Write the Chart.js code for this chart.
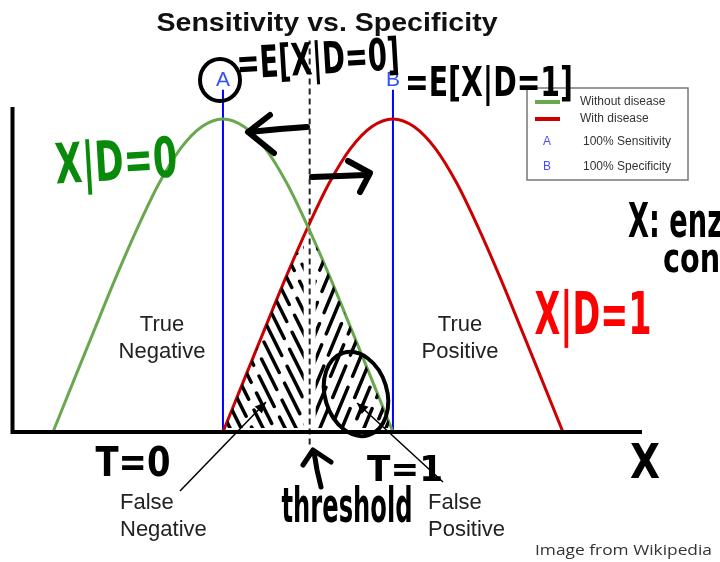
<!DOCTYPE html>
<html>
<head>
<meta charset="utf-8">
<script src="https://cdn.jsdelivr.net/npm/chart.js@4/dist/chart.umd.min.js"></script>
<style>
  html, body { margin: 0; padding: 0; background: #fff; }
  canvas { display: block; }
</style>
</head>
<body>
<canvas id="c" width="720" height="562"></canvas>
<script>
// Test value X for patients without the disease (D=0)
const xWithout = [-1, -0.875, -0.75, -0.625, -0.5, -0.375, -0.25, -0.125, 0, 0.125, 0.25, 0.375, 0.5, 0.625, 0.75, 0.875, 1];
const yWithout = [0, 0.168, 0.335, 0.50, 0.655, 0.795, 0.905, 0.975, 1, 0.975, 0.905, 0.795, 0.655, 0.50, 0.335, 0.168, 0];

// Test value X for patients with the disease (D=1)
const xWith = [0, 0.125, 0.25, 0.375, 0.5, 0.625, 0.75, 0.875, 1, 1.125, 1.25, 1.375, 1.5, 1.625, 1.75, 1.875, 2];
const yWith = [0, 0.168, 0.335, 0.50, 0.655, 0.795, 0.905, 0.975, 1, 0.975, 0.905, 0.795, 0.655, 0.50, 0.335, 0.168, 0];

// A = E[X|D=0], B = E[X|D=1], and the decision threshold between them
const meanWithout = 0;
const meanWith = 1;
const threshold = 0.51;

const legendLabels = ['Without disease', 'With disease', '100% Sensitivity', '100% Specificity'];
const legendMarks = ['', '', 'A', 'B'];

const GREEN = '#6aa84f', RED = '#cc0000', BLUE = '#0000ff';
const HAND = '"Liberation Sans Narrow", "DejaVu Sans Condensed", "Liberation Sans", sans-serif';
const SANS = '"Liberation Sans", Arial, sans-serif';

const toPoints = (xs, ys) => xs.map((x, i) => ({ x, y: ys[i] }));

// marker-pen style text, fitted into a box of width w and cap height h
function scrawl(ctx, text, cx, cy, w, h, angle, color) {
  const size = h / 0.72;
  ctx.save();
  ctx.font = `bold ${size}px ${HAND}`;
  const m = ctx.measureText(text).width;
  ctx.translate(cx, cy);
  ctx.rotate(angle || 0);
  ctx.scale(w / m, 1);
  ctx.textAlign = 'center';
  ctx.textBaseline = 'alphabetic';
  ctx.fillStyle = color || '#000';
  ctx.fillText(text, 0, h / 2);
  ctx.restore();
}

// same pen, left aligned; the reference glyph is given width w0
function scrawlLeft(ctx, text, x, baseline, h, w0, ref) {
  const size = h / 0.72;
  ctx.save();
  ctx.font = `bold ${size}px ${HAND}`;
  const sx = w0 / ctx.measureText(ref).width;
  ctx.translate(x, baseline);
  ctx.scale(sx, 1);
  ctx.textAlign = 'left';
  ctx.textBaseline = 'alphabetic';
  ctx.fillStyle = '#000';
  ctx.fillText(text, 0, 0);
  ctx.restore();
}

function stroke(ctx, pts, width) {
  ctx.save();
  ctx.strokeStyle = '#000';
  ctx.lineWidth = width;
  ctx.lineCap = 'round';
  ctx.lineJoin = 'round';
  ctx.beginPath();
  pts.forEach((p, i) => i ? ctx.lineTo(p[0], p[1]) : ctx.moveTo(p[0], p[1]));
  ctx.stroke();
  ctx.restore();
}

function pointer(ctx, from, to) {
  ctx.save();
  ctx.strokeStyle = '#000';
  ctx.fillStyle = '#000';
  ctx.lineWidth = 1.5;
  ctx.beginPath();
  ctx.moveTo(from[0], from[1]);
  ctx.lineTo(to[0], to[1]);
  ctx.stroke();
  const a = Math.atan2(to[1] - from[1], to[0] - from[0]);
  ctx.translate(to[0], to[1]);
  ctx.rotate(a);
  ctx.beginPath();
  ctx.moveTo(0, 0);
  ctx.lineTo(-11, -5);
  ctx.lineTo(-11, 5);
  ctx.closePath();
  ctx.fill();
  ctx.restore();
}

const drawing = {
  id: 'drawing',
  afterDatasetsDraw(chart) {
    const { ctx, chartArea: ca, scales } = chart;
    const px = v => scales.x.getPixelForValue(v);
    const py = v => scales.y.getPixelForValue(v);
    const base = py(0);

    // axes
    ctx.save();
    ctx.strokeStyle = '#000';
    ctx.lineWidth = 4;
    ctx.beginPath();
    ctx.moveTo(ca.left + 0.5, ca.top);
    ctx.lineTo(ca.left + 0.5, base + 2);
    ctx.moveTo(ca.left - 1.5, base);
    ctx.lineTo(ca.right, base);
    ctx.stroke();
    ctx.restore();

    // hatching of the overlap of the two curves
    const poly = [];
    xWith.forEach((x, i) => { if (x <= threshold) poly.push([px(x), py(yWith[i])]); });
    xWithout.forEach((x, i) => { if (x >= threshold - 0.02) poly.push([px(x), py(yWithout[i])]); });
    const tx = px(threshold);
    const tipY = py(0.655);
    ctx.save();
    ctx.beginPath();
    poly.forEach((p, i) => i ? ctx.lineTo(p[0], p[1]) : ctx.moveTo(p[0], p[1]));
    ctx.closePath();
    ctx.clip();
    ctx.strokeStyle = '#000';
    ctx.lineWidth = 3.5;
    ctx.lineCap = 'round';
    ctx.setLineDash([34, 12]);
    // left half: strokes falling to the right
    ctx.save();
    ctx.beginPath();
    ctx.rect(px(meanWithout) + 4, tipY + 10, tx - px(meanWithout) - 10, base - tipY - 14);
    ctx.clip();
    for (let k = 0; k < 20; k++) {
      const x0 = 100 + k * 11;
      ctx.lineDashOffset = (k * 19) % 46;
      ctx.beginPath();
      ctx.moveTo(x0, 190);
      ctx.lineTo(x0 + 125, 440);
      ctx.stroke();
    }
    ctx.restore();
    // right half: strokes rising to the right
    ctx.save();
    ctx.beginPath();
    ctx.rect(tx + 6, tipY + 10, px(meanWith) - tx - 10, base - tipY - 14);
    ctx.clip();
    for (let k = 0; k < 20; k++) {
      const x0 = 205 + k * 11;
      ctx.lineDashOffset = (k * 23) % 46;
      ctx.beginPath();
      ctx.moveTo(x0, 440);
      ctx.lineTo(x0 + 105, 188);
      ctx.stroke();
    }
    ctx.restore();
    ctx.restore();

    // title
    ctx.save();
    ctx.font = `bold 26px ${SANS}`;
    const tw = ctx.measureText('Sensitivity vs. Specificity').width;
    ctx.translate(327, 31);
    ctx.scale(341 / tw, 1);
    ctx.textAlign = 'center';
    ctx.textBaseline = 'alphabetic';
    ctx.fillStyle = '#111';
    ctx.fillText('Sensitivity vs. Specificity', 0, 0);
    ctx.restore();

    // A / B labels on the mean lines
    ctx.save();
    ctx.font = `21px ${SANS}`;
    ctx.fillStyle = '#3050ff';
    ctx.textAlign = 'center';
    ctx.textBaseline = 'alphabetic';
    ctx.fillText('A', px(meanWithout), 86);
    ctx.fillText('B', px(meanWith), 86);
    ctx.restore();

    // region labels
    ctx.save();
    ctx.font = `22px ${SANS}`;
    ctx.fillStyle = '#222';
    ctx.textBaseline = 'middle';
    ctx.textAlign = 'center';
    ctx.fillText('True', 162, 325);
    ctx.fillText('Negative', 162, 352);
    ctx.fillText('True', 460, 325);
    ctx.fillText('Positive', 460, 352);
    ctx.textAlign = 'left';
    ctx.fillText('False', 120, 503);
    ctx.fillText('Negative', 120, 530);
    ctx.fillText('False', 428, 503);
    ctx.fillText('Positive', 428, 530);
    ctx.restore();

    pointer(ctx, [180, 491], [266, 402]);
    pointer(ctx, [443, 482], [357, 403]);

    // legend
    ctx.save();
    ctx.fillStyle = '#fff';
    ctx.fillRect(527, 88, 161, 92);
    ctx.strokeStyle = '#777';
    ctx.lineWidth = 1.5;
    ctx.strokeRect(527, 88, 161, 92);
    const rows = [102, 119, 142, 167];
    ctx.lineWidth = 4;
    ctx.strokeStyle = GREEN;
    ctx.beginPath(); ctx.moveTo(535, rows[0]); ctx.lineTo(560, rows[0]); ctx.stroke();
    ctx.strokeStyle = RED;
    ctx.beginPath(); ctx.moveTo(535, rows[1]); ctx.lineTo(560, rows[1]); ctx.stroke();
    ctx.font = `12px ${SANS}`;
    ctx.textBaseline = 'middle';
    legendLabels.forEach((t, i) => {
      if (legendMarks[i]) {
        ctx.fillStyle = '#4a4aff';
        ctx.textAlign = 'center';
        ctx.fillText(legendMarks[i], 547, rows[i]);
      }
      ctx.fillStyle = '#333';
      ctx.textAlign = 'left';
      ctx.fillText(t, i < 2 ? 580 : 583, rows[i]);
    });
    ctx.restore();

    // source note
    ctx.save();
    ctx.font = `15px "Open Sans", ${SANS}`;
    const sw = ctx.measureText('Image from Wikipedia').width;
    ctx.translate(535, 555);
    ctx.scale(177 / sw, 1);
    ctx.fillStyle = '#333';
    ctx.textBaseline = 'alphabetic';
    ctx.fillText('Image from Wikipedia', 0, 0);
    ctx.restore();

    // pen notes
    scrawl(ctx, 'X|D=0', 116, 160, 122, 40, -0.06, '#0a8a0a');
    scrawl(ctx, 'X|D=1', 593, 313, 117, 42, 0, '#ff0000');
    scrawl(ctx, '=E[X|D=0]', 318, 58, 163, 32, -0.06, '#000');
    scrawl(ctx, '=E[X|D=1]', 489, 81, 168, 30, 0, '#000');
    scrawl(ctx, 'T=0', 133, 461, 75, 29, 0, '#000');
    scrawl(ctx, 'T=1', 405, 468, 76, 26, 0, '#000');
    scrawl(ctx, 'threshold', 347, 505, 131, 34, 0, '#000');
    scrawl(ctx, 'X', 645, 460, 30, 35, 0, '#000');
    scrawlLeft(ctx, 'X: enzyme', 628, 237, 34, 21, 'X');
    scrawlLeft(ctx, 'concentration', 663, 272, 30, 17, 'c');

    // circles
    ctx.save();
    ctx.strokeStyle = '#000';
    ctx.lineWidth = 4;
    ctx.beginPath();
    ctx.ellipse(220, 80, 20, 21, 0, 0, Math.PI * 2);
    ctx.stroke();
    ctx.beginPath();
    ctx.ellipse(356, 394, 31, 43, -0.3, 0, Math.PI * 2);
    ctx.stroke();
    ctx.restore();

    // arrows
    stroke(ctx, [[307, 127], [280, 129], [249, 132]], 6);
    stroke(ctx, [[270, 115], [248, 132], [274, 153]], 6);
    stroke(ctx, [[312, 177], [340, 176], [366, 175]], 6);
    stroke(ctx, [[348, 161], [370, 173], [360, 192]], 6);
    stroke(ctx, [[303, 465], [313, 450], [331, 462]], 5);
    stroke(ctx, [[314, 452], [317, 470], [321, 487]], 5);
  }
};

new Chart(document.getElementById('c'), {
  type: 'line',
  data: {
    datasets: [
      { label: legendLabels[0], data: toPoints(xWithout, yWithout), borderColor: GREEN, borderWidth: 3,
        pointRadius: 0, cubicInterpolationMode: 'monotone', clip: false },
      { label: legendLabels[1], data: toPoints(xWith, yWith), borderColor: RED, borderWidth: 3,
        pointRadius: 0, cubicInterpolationMode: 'monotone', clip: false },
      { label: 'threshold', data: [{ x: threshold, y: -0.04 }, { x: threshold, y: 1.25 }], borderColor: '#222',
        borderWidth: 2, borderDash: [6, 4], pointRadius: 0, clip: false },
      { label: legendLabels[2], data: [{ x: meanWithout, y: 0 }, { x: meanWithout, y: 1.093 }], borderColor: BLUE,
        borderWidth: 2, pointRadius: 0, clip: false },
      { label: legendLabels[3], data: [{ x: meanWith, y: 0 }, { x: meanWith, y: 1.093 }], borderColor: BLUE,
        borderWidth: 2, pointRadius: 0, clip: false }
    ]
  },
  options: {
    responsive: false,
    animation: false,
    devicePixelRatio: 1,
    layout: { padding: { left: 12, right: 78, top: 107, bottom: 130 } },
    scales: {
      x: { type: 'linear', display: false, min: -1.241, max: 2.465 },
      y: { display: false, min: 0, max: 1.038 }
    },
    plugins: { legend: { display: false }, tooltip: { enabled: false } }
  },
  plugins: [drawing]
});
</script>
</body>
</html>
